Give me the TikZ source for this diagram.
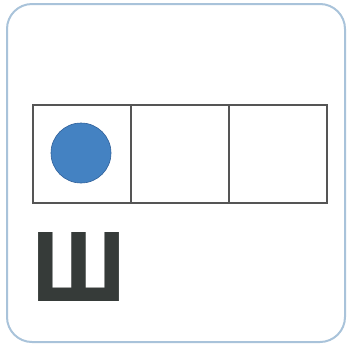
\documentclass[tikz,border=0pt]{standalone}
\usepackage{fontspec}
\newfontfamily\cyrfont{DejaVu Sans}
\definecolor{frameblue}{HTML}{A9C3DA}
\definecolor{boxgray}{HTML}{555555}
\definecolor{dotblue}{HTML}{4482C2}
\definecolor{dotedge}{HTML}{2F609A}
\definecolor{lettergray}{HTML}{363B39}
\tikzset{
  frame/.style={draw=frameblue, line width=2pt, rounded corners=25pt},
  cell/.style={draw=boxgray, line width=1.6pt, minimum width=98pt, minimum height=98pt, inner sep=0pt, outer sep=0pt},
  dot/.style={circle, fill=dotblue, draw=dotedge, line width=0.6pt, minimum size=60pt, inner sep=0pt},
  letter/.style={inner sep=0pt, outer sep=0pt, text=lettergray}
}
\begin{document}
\begin{tikzpicture}[x=1pt,y=-1pt]
\useasboundingbox (0,0) rectangle (348,346);
\draw[frame] (7,4) rectangle (345,342);
\node[cell] (c1) at (82,154) {};
\node[cell] (c2) at (180,154) {};
\node[cell] (c3) at (278,154) {};
\node[dot] (d) at (81,153) {};
\node[letter, anchor=north west] (l) at (31,232) {\resizebox{95pt}{69pt}{\cyrfont\bfseries Ш}};
\end{tikzpicture}
\end{document}
